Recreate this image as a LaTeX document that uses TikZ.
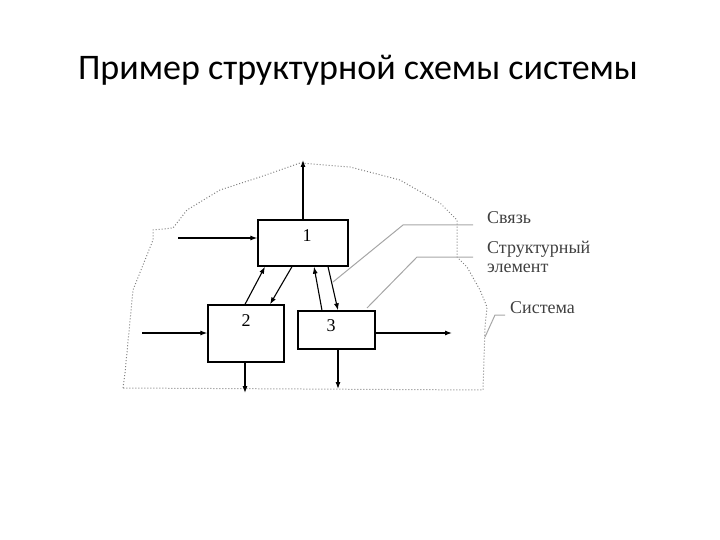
\documentclass[tikz,border=0pt]{standalone}
\usepackage{fontspec}
\setmainfont{Liberation Serif}
\newfontfamily\titlefont{Carlito}
\usetikzlibrary{arrows.meta}
\begin{document}
\begin{tikzpicture}[x=1pt,y=-1pt,
  blk/.style={draw,line width=1.3pt,inner sep=0pt},
  arr/.style={-{Latex[length=7pt,width=5pt]},line width=1.1pt},
  lead/.style={draw=gray!70,line width=1pt},
  lbl/.style={font=\fontsize{18}{19}\selectfont,text=black!75,inner sep=0pt,anchor=west}]
\useasboundingbox (0,0) rectangle (720,540);
\node[font=\titlefont\fontsize{36}{40}\selectfont] (title) at (358,70) {Пример структурной схемы системы};
\draw[dotted,line width=1pt,gray] (123,388) -- (125,373) -- (133,290) -- (153,240) -- (153,230) -- (173,228) -- (187,210) -- (220,190) -- (260,177) -- (300,163) -- (350,167) -- (400,180) -- (440,203) -- (457,220) -- (457,257) -- (467,267) -- (480,290) -- (487,307) -- (485,327) -- (483,390) -- cycle;
\node[blk,minimum width=90pt,minimum height=46pt] (b1) at (303,243) {};
\node[blk,minimum width=76pt,minimum height=57pt] (b2) at (246,333.5) {};
\node[blk,minimum width=77pt,minimum height=38pt] (b3) at (336.5,330) {};
\node[font=\fontsize{18}{19}\selectfont] (n1) at (307,236) {1};
\node[font=\fontsize{18}{19}\selectfont] (n2) at (246,321) {2};
\node[font=\fontsize{18}{19}\selectfont] (n3) at (331,326) {3};
\coordinate (top) at (303,160);
\draw[arr] (b1.north -| top) -- (top);
\coordinate (in1) at (178,238);
\draw[arr] (in1) -- (in1 -| b1.west);
\coordinate (in2) at (142,333);
\draw[arr] (in2) -- (in2 -| b2.west);
\coordinate (out3) at (452,333);
\draw[arr] (out3 -| b3.east) -- (out3);
\coordinate (d2) at (245,393);
\draw[arr] (d2 |- b2.south) -- (d2);
\coordinate (d3) at (338,389);
\draw[arr] (d3 |- b3.south) -- (d3);
\draw[arr] (b2.north -| 245,0) -- (b1.south -| 265,0);
\draw[arr] (b1.south -| 292,0) -- (b2.north -| 270,0);
\draw[arr] (b3.north -| 322,0) -- (b1.south -| 314,0);
\draw[arr] (b1.south -| 328,0) -- (b3.north -| 338,0);
\node[lbl] (t1) at (487,218) {Связь};
\node[lbl,align=left,anchor=north west] (t2) at (487,241) {Структурный\\элемент};
\node[lbl] (t3) at (510,308) {Система};
\draw[lead] (333,282) -- (403,225) -- (473,225);
\draw[lead] (367,308) -- (417,257) -- (473,257);
\draw[lead] (485,337) -- (495,315) -- (505,315);
\end{tikzpicture}
\end{document}
